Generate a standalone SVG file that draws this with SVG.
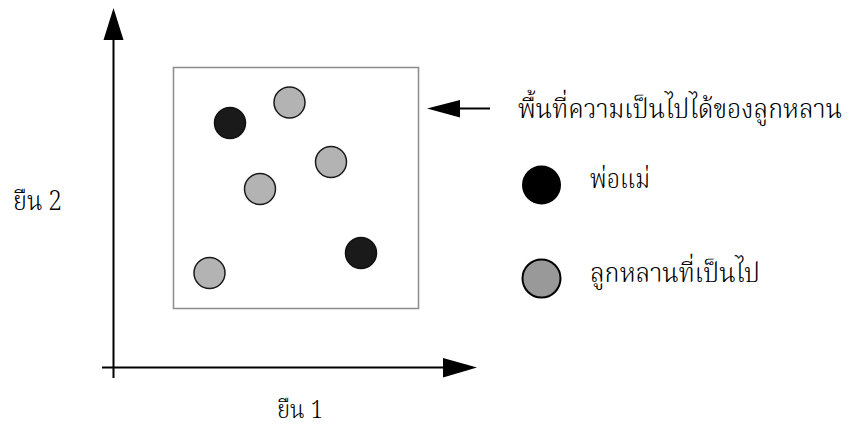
<svg xmlns="http://www.w3.org/2000/svg" width="863" height="432" viewBox="0 0 863 432">
<style>
.t{font-family:"Noto Serif Thai","Liberation Serif","DejaVu Serif",serif;font-size:27px;font-weight:300;fill:#000}
.s{font-size:25px}
.ax{stroke:#000;stroke-width:2;fill:none}
.g{fill:#b3b3b3;stroke:#1a1a1a;stroke-width:1.5}
.b{fill:#1a1a1a;stroke:#111;stroke-width:1.5}
</style>
<rect width="863" height="432" fill="#fff"/>
<g id="connectors">
<line class="ax" x1="113.5" y1="378" x2="113.5" y2="36"/>
<polygon points="113.5,8 103.5,40 123.5,40" fill="#000"/>
<line class="ax" x1="102" y1="367.5" x2="447" y2="367.5"/>
<polygon points="477,367.5 443,358 443,377.5" fill="#000"/>
<line class="ax" x1="456" y1="108.5" x2="490" y2="108.5"/>
<polygon points="427,108.5 460,100 460,117.5" fill="#000"/>
</g>
<g id="region"><rect x="173.5" y="67.5" width="245" height="241" fill="#fff" stroke="#8c8c8c" stroke-width="1.5"/></g>
<g id="points">
<circle class="b" cx="230" cy="123" r="15.5"/>
<circle class="g" cx="289.5" cy="102.5" r="15.5"/>
<circle class="g" cx="331" cy="162" r="15.5"/>
<circle class="g" cx="260" cy="189" r="15.5"/>
<circle class="b" cx="361" cy="253" r="15.5"/>
<circle class="g" cx="209.5" cy="273" r="15.5"/>
</g>
<g id="label-region"><text class="t" x="518" y="118" textLength="324" lengthAdjust="spacingAndGlyphs">พื้นที่ความเป็นไปได้ของลูกหลาน</text></g>
<g id="legend-parent">
<circle cx="541.5" cy="185" r="19.5" fill="#000"/>
<text class="t" x="590" y="188" textLength="60" lengthAdjust="spacingAndGlyphs">พ่อแม่</text>
</g>
<g id="legend-child">
<circle cx="541.5" cy="278.5" r="19" fill="#999" stroke="#000" stroke-width="2"/>
<text class="t" x="590" y="282" textLength="170" lengthAdjust="spacingAndGlyphs">ลูกหลานที่เป็นไป</text>
</g>
<g id="axis-y-label"><text class="t" x="13" y="210" textLength="49" lengthAdjust="spacingAndGlyphs">ยืน 2</text></g>
<g id="axis-x-label"><text class="t s" x="277" y="418" textLength="46" lengthAdjust="spacingAndGlyphs">ยืน 1</text></g>
</svg>
